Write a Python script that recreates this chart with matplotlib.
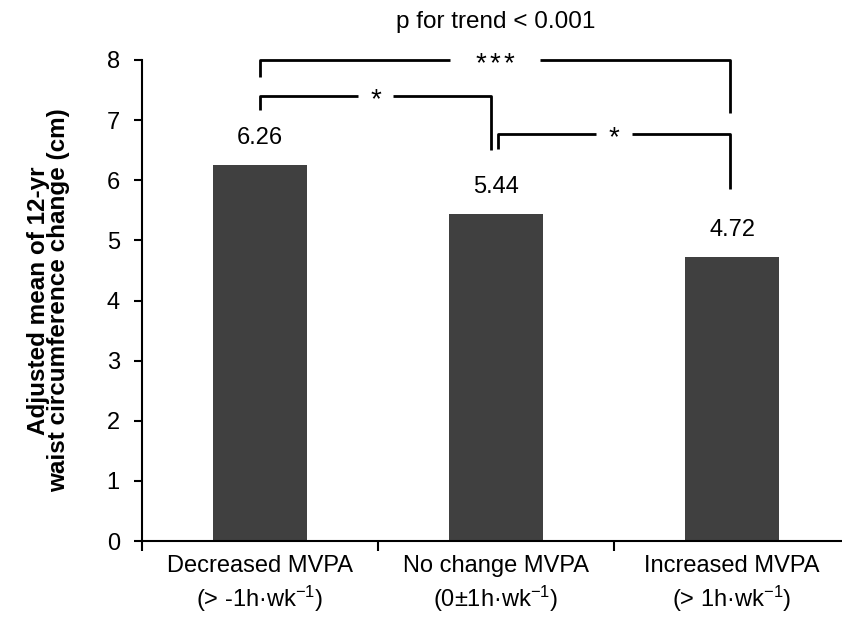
import matplotlib
matplotlib.use("Agg")
import matplotlib.pyplot as plt
import numpy as np

plt.rcParams['font.family'] = ['Liberation Sans', 'DejaVu Sans']
plt.rcParams['mathtext.fontset'] = 'custom'
plt.rcParams['mathtext.rm'] = 'Liberation Sans'
plt.rcParams['mathtext.it'] = 'Liberation Sans:italic'
plt.rcParams['mathtext.bf'] = 'Liberation Sans:bold'
plt.rcParams['mathtext.default'] = 'regular'

categories = ["Decreased MVPA\n(> -1h·wk$^{-1}$)",
              "No change MVPA\n(0±1h·wk$^{-1}$)",
              "Increased MVPA\n(> 1h·wk$^{-1}$)"]
values = [6.26, 5.44, 4.72]
value_labels = ["6.26", "5.44", "4.72"]
y_ticks = [0, 1, 2, 3, 4, 5, 6, 7, 8]
y_label = "Adjusted mean of 12-yr\nwaist circumference change (cm)"
trend_text = "p for trend < 0.001"
# brackets: (x_left, x_right, y_top, y_left_end, y_right_end, label)
brackets = [
    (0.0, 1.99, 8.0, 7.72, 7.12, "***"),
    (0.0, 0.98, 7.40, 7.17, 6.50, "*"),
    (1.01, 1.99, 6.77, 6.52, 5.86, "*"),
]

W, H = 842, 619
fig = plt.figure(figsize=(W / 100, H / 100), dpi=100)
ax = fig.add_axes([142 / W, 1 - 541 / H, 708 / W, 481 / H])

x = np.arange(len(values))
ax.bar(x, values, width=0.4, color='#404040')
ax.set_xlim(-0.5, 2.5)
ax.set_ylim(0, 8)

for xi, v, lab in zip(x, values, value_labels):
    ax.text(xi, v + 0.45, lab, ha='center', va='center', fontsize=17)

ax.set_yticks(y_ticks)
ax.set_yticklabels([str(t) for t in y_ticks], fontsize=17)
ax.set_xticks(x)
ax.set_xticklabels(categories, fontsize=17, linespacing=1.3)
ax.set_xticks([-0.5, 0.5, 1.5, 2.5], minor=True)
ax.tick_params(axis='x', which='major', length=0, pad=10)
ax.tick_params(axis='x', which='minor', length=7, width=1.5, direction='out')
ax.tick_params(axis='y', length=6, width=1.5, direction='out', pad=10)

for s in ['top', 'right']:
    ax.spines[s].set_visible(False)
for s in ['left', 'bottom']:
    ax.spines[s].set_linewidth(1.5)

ax.set_ylabel(y_label, fontsize=17.5, fontweight='bold', labelpad=26,
              linespacing=0.85)

for xl, xr, yt, yl, yr, lab in brackets:
    xm = (xl + xr) / 2
    gap = 0.19 if len(lab) > 1 else 0.075
    kw = dict(color='black', lw=2, clip_on=False, solid_capstyle='butt')
    ax.plot([xl, xl, xm - gap], [yl, yt, yt], **kw)
    ax.plot([xm + gap, xr, xr], [yt, yt, yr], **kw)
    sp = 0.06
    n = len(lab)
    for k in range(n):
        ax.text(xm + (k - (n - 1) / 2) * sp, yt - 0.19, "*", ha='center',
                va='baseline', fontsize=20)

ax.text(1.0, 8.64, trend_text, ha='center', va='center', fontsize=17.5)

fig.savefig("out.png", dpi=100)
